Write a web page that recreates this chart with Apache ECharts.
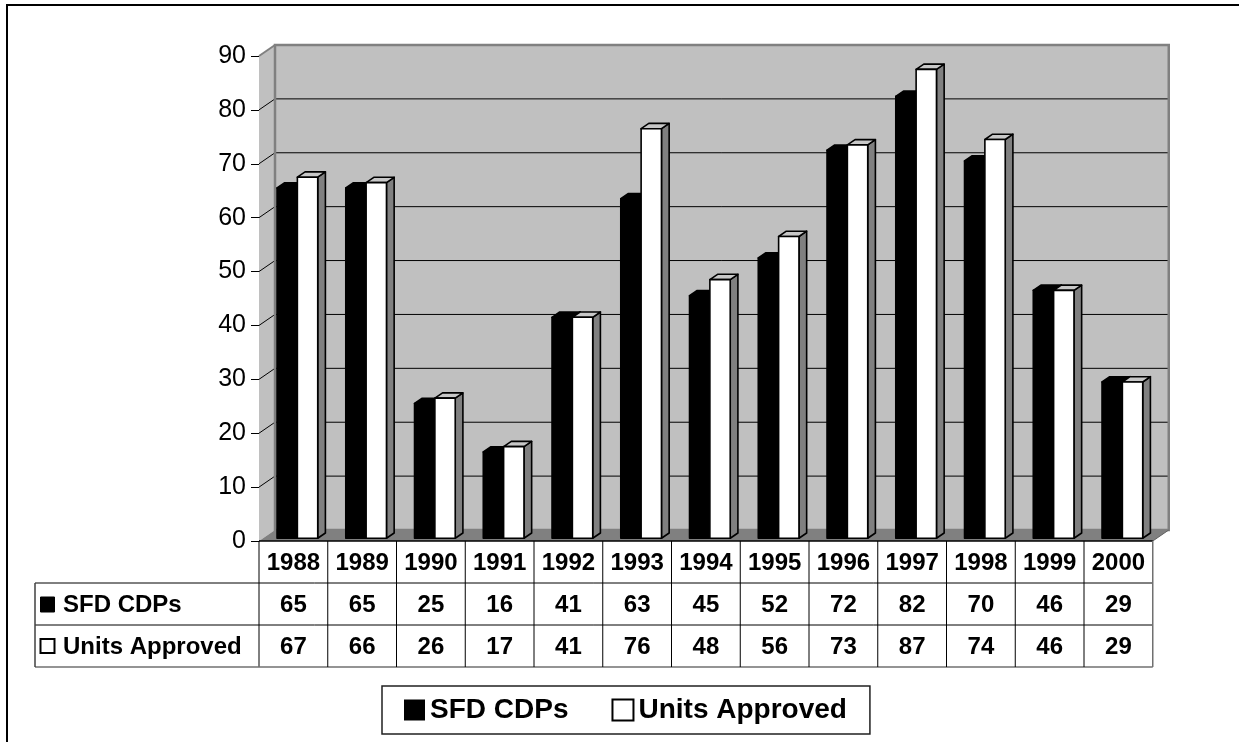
<!DOCTYPE html>
<html>
<head>
<meta charset="utf-8">
<script src="https://cdn.jsdelivr.net/npm/echarts@6/dist/echarts.min.js"></script>
<style>
  html, body { margin: 0; padding: 0; background: #fff; }
  #chart { width: 1239px; height: 742px; }
</style>
</head>
<body>
<div id="chart"></div>
<script>
// Yearly counts
const years = ['1988', '1989', '1990', '1991', '1992', '1993', '1994', '1995', '1996', '1997', '1998', '1999', '2000'];
const sfdCdps = [65, 65, 25, 16, 41, 63, 45, 52, 72, 82, 70, 46, 29];
const unitsApproved = [67, 66, 26, 17, 41, 76, 48, 56, 73, 87, 74, 46, 29];
const seriesNames = ['SFD CDPs', 'Units Approved'];
const yMin = 0, yMax = 90, yStep = 10;

// Pseudo-3D depth: offset of the back wall from the front plane
const DX = 16, DY = 11;
// Columns occupy this slice of the depth
const T0 = 0.25, T1 = 0.73;
const BAR_FRAC = 0.296;        // each column's width as a share of the category band
const ROW_H = 42;              // data table row height
const LABEL_LEFT = 35;         // left edge of the table's label column
const FONT = "'Liberation Sans', Arial, sans-serif";

const faces = [
  { front: '#000000', top: '#000000', side: '#000000' },
  { front: '#ffffff', top: '#c8c8c8', side: '#808080' }
];

function barRenderer(s) {
  return function (params, api) {
    const idx = api.value(0);
    const v = api.value(1);
    const base = api.coord([idx, 0]);
    const tip = api.coord([idx, v]);
    const band = api.size([1, 0])[0];
    const bw = band * BAR_FRAC;
    const x0 = base[0] + (s === 0 ? -bw : 0) + T0 * DX;
    const yb = base[1] - T0 * DY;
    const yt = tip[1] - T0 * DY;
    const ddx = (T1 - T0) * DX, ddy = (T1 - T0) * DY;
    const stroke = { stroke: '#000', lineWidth: 1.6, lineJoin: 'round' };
    const f = faces[s];
    return {
      type: 'group',
      children: [
        { type: 'polygon', shape: { points: [[x0 + bw, yt], [x0 + bw + ddx, yt - ddy], [x0 + bw + ddx, yb - ddy], [x0 + bw, yb]] },
          style: Object.assign({ fill: f.side }, stroke) },
        { type: 'polygon', shape: { points: [[x0, yt], [x0 + bw, yt], [x0 + bw + ddx, yt - ddy], [x0 + ddx, yt - ddy]] },
          style: Object.assign({ fill: f.top }, stroke) },
        { type: 'rect', shape: { x: x0, y: yt, width: bw, height: yb - yt },
          style: Object.assign({ fill: f.front }, stroke) }
      ]
    };
  };
}

// Walls, floor and gridlines of the box
function wallRenderer(params, api) {
  const cs = params.coordSys;
  const L = cs.x, R = cs.x + cs.width, T = cs.y, B = cs.y + cs.height;
  const kids = [
    { type: 'rect', shape: { x: L + DX, y: T - DY, width: R - L, height: B - T }, style: { fill: '#c0c0c0' } },
    { type: 'polygon', shape: { points: [[L, T], [L + DX, T - DY], [L + DX, B - DY], [L, B]] }, style: { fill: '#c0c0c0' } },
    { type: 'polygon', shape: { points: [[L, B], [R, B], [R + DX, B - DY], [L + DX, B - DY]] }, style: { fill: '#808080' } }
  ];
  for (let v = yMin + yStep; v < yMax; v += yStep) {
    const y = api.coord([0, v])[1];
    kids.push({ type: 'line', shape: { x1: L + DX, y1: y - DY, x2: R + DX, y2: y - DY }, style: { stroke: '#000', lineWidth: 1 } });
    kids.push({ type: 'line', shape: { x1: L, y1: y, x2: L + DX, y2: y - DY }, style: { stroke: '#000', lineWidth: 1 } });
  }
  kids.push({ type: 'rect', shape: { x: L + DX, y: T - DY, width: R - L, height: B - T }, style: { fill: null, stroke: '#808080', lineWidth: 2.5 } });
  kids.push({ type: 'line', shape: { x1: L, y1: T, x2: L + DX, y2: T - DY }, style: { stroke: '#808080', lineWidth: 2 } });
  kids.push({ type: 'line', shape: { x1: R, y1: B, x2: R + DX, y2: B - DY }, style: { stroke: '#606060', lineWidth: 1 } });
  return { type: 'group', children: kids };
}

// Data table under the category axis
function tableRenderer(params, api) {
  const i = params.dataIndex;
  const cs = params.coordSys;
  const L = cs.x, R = cs.x + cs.width, B = cs.y + cs.height;
  const band = api.size([1, 0])[0];
  const cx = api.coord([i, 0])[0];
  const x0 = cx - band / 2;
  const txt = (x, y, t, align) => ({
    type: 'text', x: x, y: y,
    style: { text: t, fill: '#000', font: 'bold 24px ' + FONT, align: align || 'center', verticalAlign: 'middle' }
  });
  const ln = (x1, y1, x2, y2, c, w) => ({ type: 'line', shape: { x1, y1, x2, y2 }, style: { stroke: c || '#000', lineWidth: w || 1 } });
  const kids = [
    txt(cx, B + ROW_H / 2 + 1, years[i]),
    txt(cx, B + ROW_H * 1.5 + 1, String(sfdCdps[i])),
    txt(cx, B + ROW_H * 2.5 + 1, String(unitsApproved[i])),
    ln(x0, B, x0, B + ROW_H * 3)
  ];
  if (i === years.length - 1) {
    kids.push(ln(x0 + band, B, x0 + band, B + ROW_H * 3, '#707070', 1.5));
  }
  if (i === 0) {
    kids.push(ln(L, B, R, B, '#000', 1.5));
    kids.push(ln(LABEL_LEFT, B + ROW_H, R, B + ROW_H));
    kids.push(ln(LABEL_LEFT, B + ROW_H * 2, R, B + ROW_H * 2));
    kids.push(ln(LABEL_LEFT, B + ROW_H * 3, R, B + ROW_H * 3, '#707070', 1.5));
    kids.push(ln(LABEL_LEFT, B + ROW_H, LABEL_LEFT, B + ROW_H * 3, '#404040', 1.5));
    kids.push({ type: 'rect', shape: { x: LABEL_LEFT + 5.5, y: B + ROW_H * 1.5 - 7, width: 14, height: 15 }, style: { fill: '#000', stroke: '#000', lineWidth: 1 } });
    kids.push({ type: 'rect', shape: { x: LABEL_LEFT + 5.5, y: B + ROW_H * 2.5 - 7, width: 14, height: 14 }, style: { fill: '#fff', stroke: '#000', lineWidth: 2 } });
    kids.push(txt(LABEL_LEFT + 28, B + ROW_H * 1.5 + 1, seriesNames[0], 'left'));
    kids.push(txt(LABEL_LEFT + 28, B + ROW_H * 2.5 + 1, seriesNames[1], 'left'));
  }
  return { type: 'group', children: kids };
}

const chart = echarts.init(document.getElementById('chart'), null, { renderer: 'canvas' });
chart.setOption({
  animation: false,
  backgroundColor: '#ffffff',
  grid: { left: 259, right: 86.25, top: 56, bottom: 201, containLabel: false },
  xAxis: {
    type: 'category',
    data: years,
    boundaryGap: true,
    axisLine: { show: false },
    axisTick: { show: false },
    axisLabel: { show: false },
    splitLine: { show: false }
  },
  yAxis: {
    type: 'value',
    min: yMin, max: yMax, interval: yStep,
    axisLine: { show: true, lineStyle: { color: '#000', width: 1 } },
    axisTick: { show: true, length: 8, lineStyle: { color: '#000', width: 1 } },
    axisLabel: { color: '#000', fontSize: 25, fontFamily: FONT, margin: 13 },
    splitLine: { show: false }
  },
  legend: {
    left: 382, top: 686,
    padding: [10, 23, 10, 22],
    itemWidth: 21, itemHeight: 21, itemGap: 43,
    icon: 'rect',
    backgroundColor: '#fff',
    borderColor: '#202020', borderWidth: 1.5,
    textStyle: { color: '#000', fontSize: 28, fontWeight: 'bold', fontFamily: FONT },
    data: [
      { name: seriesNames[0], itemStyle: { color: '#000' } },
      { name: seriesNames[1], itemStyle: { color: '#fff', borderColor: '#000', borderWidth: 2 } }
    ]
  },
  graphic: [{
    type: 'polyline', silent: true,
    shape: { points: [[7, 742], [7, 5], [1239, 5]] },
    style: { stroke: '#000', lineWidth: 2, fill: null }
  }],
  series: [
    { type: 'custom', name: 'box', silent: true, z: 1, renderItem: wallRenderer, data: [[0, 0]], encode: { x: 0, y: 1 } },
    { type: 'custom', name: seriesNames[0], z: 2, itemStyle: { color: '#000' }, renderItem: barRenderer(0),
      data: years.map((y, i) => [i, sfdCdps[i]]), encode: { x: 0, y: 1 } },
    { type: 'custom', name: seriesNames[1], z: 3, itemStyle: { color: '#fff' }, renderItem: barRenderer(1),
      data: years.map((y, i) => [i, unitsApproved[i]]), encode: { x: 0, y: 1 } },
    { type: 'custom', name: 'table', silent: true, z: 4, renderItem: tableRenderer,
      data: years.map((y, i) => [i, 0]), encode: { x: 0, y: 1 } }
  ]
});
</script>
</body>
</html>
